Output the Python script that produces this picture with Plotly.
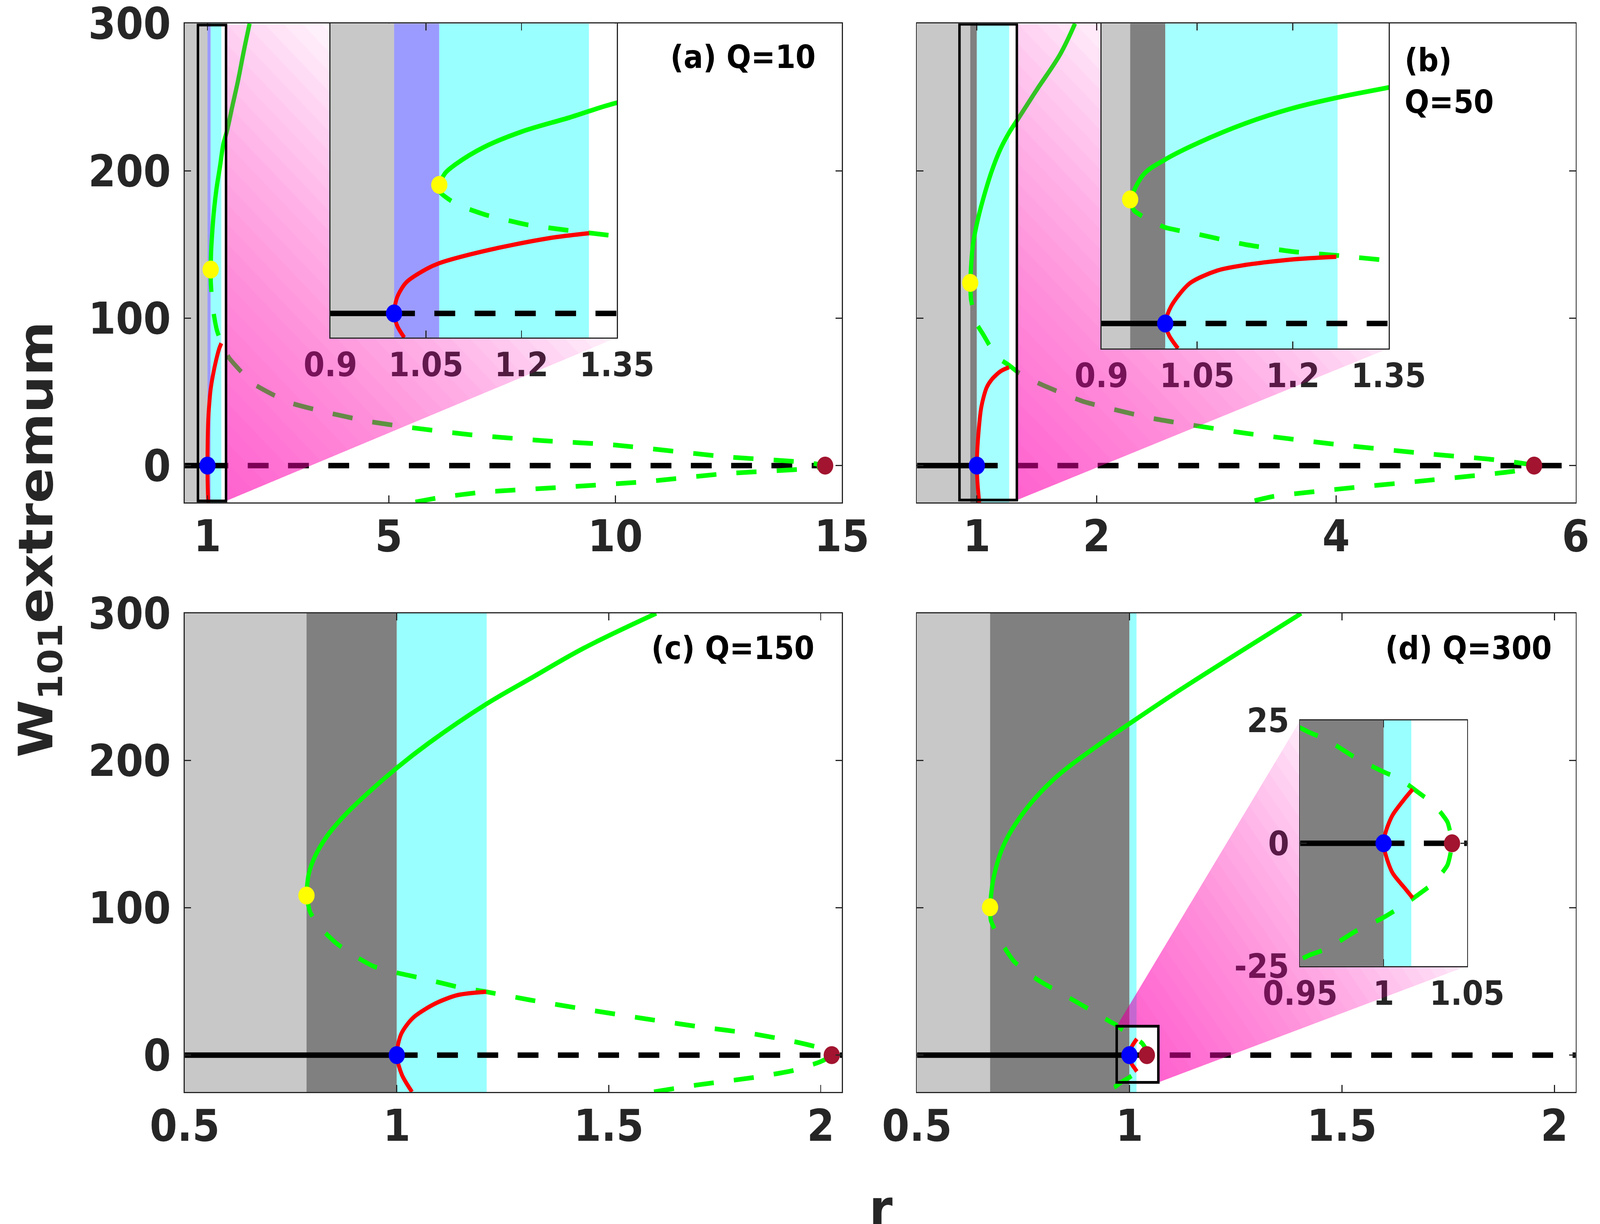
import math
import plotly.graph_objects as go

# the reference picture is 4935x3133 but its content is stretched sideways by ~1.09
# (round dots come out 50x46 px), so the figure is laid out narrower and stretched on display
W, H = 4935, 3133
STRETCH = 1.09
FIG_W = round(W / STRETCH)
FONT = "DejaVu Sans"
INK = "#262626"

# ---------------- values ----------------
# (a) Q=10
a_band_edges = [0.5, 1.0, 1.071, 1.306]
a_band_colors = ["#c8c8c8", "#9b9bff", "#99ffff"]
a_up_x = [1.071, 1.08, 1.096, 1.141, 1.2, 1.277, 1.35, 1.43, 1.55, 1.673, 1.8, 1.93]
a_up_y = [133, 145, 154, 172, 188, 203, 218, 227, 244, 261, 281, 300]
a_dn_x = [1.071, 1.073, 1.098, 1.144, 1.207, 1.273, 1.35, 1.48, 1.995, 2.79, 3.65, 4.55, 5.44,
          6.78, 8.38, 9.98, 12.44, 14.16, 14.63, 14.16, 12.44, 10.62, 8.83, 7.04, 6.14, 5.57]
a_dn_y = [133, 125, 113, 102, 92, 86, 80, 73, 56, 43, 36, 30, 26,
          21, 17, 14, 6, 2.3, 0, -2.3, -5.4, -11, -14.7, -18.1, -21.6, -24.8]
a_red_x = [1.016, 1.005, 1.0, 1.005, 1.019, 1.051, 1.071, 1.119, 1.187, 1.255, 1.306]
a_red_y = [-25, -13, 0, 17, 32, 46, 52, 61, 71, 79, 83]
a_points_x = [1.071, 1.0, 14.63]   # fold, Hopf, end
a_points_y = [133, 0, 0]

# (b) Q=50
b_band_edges = [0.5, 0.945, 1.0, 1.27]
b_band_colors = ["#c8c8c8", "#808080", "#a6ffff"]
b_up_x = [0.945, 0.966, 1.0, 1.053, 1.125, 1.198, 1.27, 1.35, 1.50, 1.695, 1.82]
b_up_y = [124, 149, 164, 181, 200, 215, 226, 236, 255, 279, 300]
b_dn_x = [0.945, 0.951, 0.973, 1.0, 1.053, 1.125, 1.198, 1.27, 1.35, 1.54, 1.89, 2.47, 3.24,
          4.01, 4.78, 5.32, 5.653, 5.50, 4.78, 4.01, 3.47, 3.26]
b_dn_y = [124, 113, 104, 96, 89, 79, 72, 68, 63, 55, 43.5, 32, 22,
          14.3, 7.9, 4, 0, -3.6, -9.9, -16, -21, -25]
b_red_x = [1.02, 1.006, 1.0, 1.009, 1.038, 1.082, 1.125, 1.198, 1.268]
b_red_y = [-25, -12, 0, 17, 40, 53, 58.5, 64, 66.7]
b_points_x = [0.945, 1.0, 5.653]
b_points_y = [124, 0, 0]

# (c) Q=150
c_band_edges = [0.5, 0.787, 1.0, 1.212]
c_band_colors = ["#c8c8c8", "#808080", "#99ffff"]
c_up_x = [0.787, 0.7924, 0.808, 0.8345, 0.867, 0.9065, 1.0, 1.076, 1.21, 1.315, 1.4406, 1.612]
c_up_y = [108.4, 123, 135.5, 148.3, 159.7, 171.2, 195, 212, 238.2, 255.7, 276.3, 300]
c_dn_x = [0.787, 0.795, 0.815, 0.854, 0.894, 0.946, 0.999, 1.065, 1.144, 1.211, 1.315, 1.447,
          1.579, 1.71, 1.842, 1.934, 2.0, 2.026, 2.0, 1.934, 1.842, 1.71, 1.605]
c_dn_y = [108.4, 97.6, 87.9, 76.8, 68.5, 60.2, 56, 51.8, 46.3, 43, 37.4, 31,
          25, 19.4, 14.4, 9.4, 4.7, 0, -4.4, -10.5, -15.2, -20.2, -25]
c_red_x = [1.036, 1.012, 1.0, 1.0105, 1.039, 1.092, 1.144, 1.211]
c_red_y = [-25, -13.3, 0, 14.4, 25.5, 35.2, 40.8, 43]
c_points_x = [0.787, 1.0, 2.026]
c_points_y = [108.4, 0, 0]

# (d) Q=300
d_band_edges = [0.5, 0.672, 1.0, 1.0166]
d_band_colors = ["#c8c8c8", "#808080", "#99ffff"]
d_up_x = [0.672, 0.680, 0.7042, 0.7529, 0.8259, 0.9232, 0.9996, 1.1178, 1.2638, 1.394, 1.404]
d_up_y = [100.4, 119.9, 142.7, 165.6, 188.4, 209.8, 225, 247.8, 274.5, 298.1, 300]
d_dn_x = [0.672, 0.674, 0.696, 0.728, 0.783, 0.859, 0.93, 0.9553, 0.9658, 0.9827, 0.9989,
          1.0101, 1.0206, 1.0302, 1.0383, 1.041, 1.0383, 1.0302, 1.0206, 1.0101, 0.9989,
          0.9827, 0.9666, 0.9553, 0.9425]
d_dn_y = [100.4, 91.5, 77.6, 63.8, 51.3, 38.8, 27, 22.6, 21.1, 17.5, 14.7,
          13, 10.4, 7.9, 4.3, 0, -4.4, -8, -10.5, -13, -15.3,
          -18, -21.4, -22.8, -25]
d_red_x = [1.0174, 1.0126, 1.0053, 1.0013, 1.0, 1.0013, 1.0053, 1.0126, 1.0174]
d_red_y = [-11.1, -9.1, -6, -2.4, 0, 2.35, 5.7, 9.05, 11]
d_points_x = [0.672, 1.0, 1.041]
d_points_y = [100.4, 0, 0]

# zoom boxes drawn in the main panels [x0, x1, y0, y1]
a_box = [0.79, 1.41, -24, 299]
b_box = [0.855, 1.334, -23.4, 299.5]
d_box = [0.97, 1.068, -18.5, 19.6]

# tick labels
a_xticks = [1, 5, 10, 15]
b_xticks = [1, 2, 4, 6]
cd_xticks = [0.5, 1, 1.5, 2]
main_yticks = [0, 100, 200, 300]
ab_inset_xticks = [0.9, 1.05, 1.2, 1.35]
d_inset_xticks = [0.95, 1, 1.05]
d_inset_yticks = [-25, 0, 25]

# ---------------- layout geometry (fractions of the page) ----------------
LEFT_X = [0.1155, 0.5262]
RIGHT_X = [0.5731, 0.9848]
TOP_Y = [0.5895, 0.9808]
BOT_Y = [0.1079, 0.4989]
Y_RANGE = [-25, 300]

panels = [
    dict(xd=LEFT_X, yd=TOP_Y, xr=[0.5, 15], xt=a_xticks, ylab=True,
         edges=a_band_edges, colors=a_band_colors, up=(a_up_x, a_up_y), dn=(a_dn_x, a_dn_y),
         red=(a_red_x, a_red_y), pts=(a_points_x, a_points_y), box=a_box),
    dict(xd=RIGHT_X, yd=TOP_Y, xr=[0.5, 6], xt=b_xticks, ylab=False,
         edges=b_band_edges, colors=b_band_colors, up=(b_up_x, b_up_y), dn=(b_dn_x, b_dn_y),
         red=(b_red_x, b_red_y), pts=(b_points_x, b_points_y), box=b_box),
    dict(xd=LEFT_X, yd=BOT_Y, xr=[0.5, 2.05], xt=cd_xticks, ylab=True,
         edges=c_band_edges, colors=c_band_colors, up=(c_up_x, c_up_y), dn=(c_dn_x, c_dn_y),
         red=(c_red_x, c_red_y), pts=(c_points_x, c_points_y), box=None),
    dict(xd=RIGHT_X, yd=BOT_Y, xr=[0.5, 2.05], xt=cd_xticks, ylab=False,
         edges=d_band_edges, colors=d_band_colors, up=(d_up_x, d_up_y), dn=(d_dn_x, d_dn_y),
         red=(d_red_x, d_red_y), pts=(d_points_x, d_points_y), box=d_box),
]

insets = [
    dict(panel=0, xd=[0.2065, 0.3856], yd=[0.7242, 0.9808], xr=[0.9, 1.35], yr=[-25, 300],
         xt=ab_inset_xticks, yt=[], corners=["TR", "iTL", "iBR", "BR"], angle=49, length=1153),
    dict(panel=1, xd=[0.6884, 0.8679], yd=[0.7153, 0.9808], xr=[0.9, 1.35], yr=[-25, 300],
         xt=ab_inset_xticks, yt=[], corners=["TR", "iTL", "iBR", "BR"], angle=49, length=1153),
    dict(panel=3, xd=[0.8126, 0.9169], yd=[0.2107, 0.4114], xr=[0.95, 1.05], yr=[-25, 25],
         xt=d_inset_xticks, yt=d_inset_yticks, corners=["TL", "iTL", "iBR", "BR", "TR"],
         angle=39.4, length=1000),
]


def ids(n):
    return ("x" if n == 1 else f"x{n}"), ("y" if n == 1 else f"y{n}")


def names(n):
    return ("xaxis" if n == 1 else f"xaxis{n}"), ("yaxis" if n == 1 else f"yaxis{n}")


def bold(vals):
    return ["<b>%g</b>" % v for v in vals]


def to_px(xd, yd, xr, yr, x, y):
    # position on the (stretched) reference page
    X = (xd[0] + (x - xr[0]) / (xr[1] - xr[0]) * (xd[1] - xd[0])) * W
    Y = (1 - (yd[0] + (y - yr[0]) / (yr[1] - yr[0]) * (yd[1] - yd[0]))) * H
    return X, Y


def clip(poly, s, u, t):
    # keep the part of poly where (p - s).u <= t
    out = []
    n = len(poly)
    for i in range(n):
        p, q = poly[i], poly[(i + 1) % n]
        dp = (p[0] - s[0]) * u[0] + (p[1] - s[1]) * u[1] - t
        dq = (q[0] - s[0]) * u[0] + (q[1] - s[1]) * u[1] - t
        if dp <= 0:
            out.append(p)
        if (dp <= 0) != (dq <= 0):
            f = dp / (dp - dq)
            out.append((p[0] + f * (q[0] - p[0]), p[1] + f * (q[1] - p[1])))
    return out


fig = go.Figure()
lay = {}
shapes = []

tickfont_main = dict(family=FONT, size=112, color=INK)
tickfont_inset = dict(family=FONT, size=86, color=INK)
frame = dict(showline=True, linecolor=INK, linewidth=3, mirror="ticks", ticks="inside",
             ticklen=18, tickwidth=3, tickcolor=INK, showgrid=False, zeroline=False,
             automargin=False, ticklabeloverflow="allow")


def add_bands(P, xa, ya, yr):
    e = P["edges"]
    for k, col in enumerate(P["colors"]):
        shapes.append(dict(type="rect", xref=xa, yref=ya, x0=e[k], x1=e[k + 1], y0=yr[0], y1=yr[1],
                           fillcolor=col, line=dict(width=0), layer="below"))


def add_curves(P, xa, ya, xr):
    common = dict(xaxis=xa, yaxis=ya, showlegend=False, hoverinfo="skip")
    hx = P["pts"][0][1]
    fig.add_trace(go.Scatter(x=[xr[0], hx], y=[0, 0], mode="lines",
                             line=dict(color="black", width=14), **common))
    fig.add_trace(go.Scatter(x=[hx, xr[1]], y=[0, 0], mode="lines",
                             line=dict(color="black", width=14, dash="59px,55px"), **common))
    fig.add_trace(go.Scatter(x=P["dn"][0], y=P["dn"][1], mode="lines",
                             line=dict(color="#00ff00", width=12, dash="57px,57px",
                                       shape="spline", smoothing=0.5), **common))
    fig.add_trace(go.Scatter(x=P["up"][0], y=P["up"][1], mode="lines",
                             line=dict(color="#00ff00", width=12, shape="spline", smoothing=1.0),
                             **common))
    fig.add_trace(go.Scatter(x=P["red"][0], y=P["red"][1], mode="lines",
                             line=dict(color="#ff0000", width=11, shape="spline", smoothing=0.8),
                             **common))
    fig.add_trace(go.Scatter(x=P["pts"][0], y=P["pts"][1], mode="markers",
                             marker=dict(size=46, color=["#ffff00", "#0000ff", "#a2142f"],
                                         line=dict(width=0)), **common))


# main panels: subplots 1..4
for i, P in enumerate(panels):
    n = i + 1
    xa, ya = ids(n)
    xn, yn = names(n)
    add_bands(P, xa, ya, Y_RANGE)
    add_curves(P, xa, ya, P["xr"])
    lay[xn] = dict(frame, domain=P["xd"], range=P["xr"], anchor=ya, tickvals=P["xt"],
                   ticktext=bold(P["xt"]), tickfont=tickfont_main, ticklabelstandoff=-12)
    lay[yn] = dict(frame, domain=P["yd"], range=Y_RANGE, anchor=xa, tickvals=main_yticks,
                   ticktext=bold(main_yticks), showticklabels=P["ylab"], tickfont=tickfont_main,
                   ticklabelstandoff=14)
    if P["box"]:
        b = P["box"]
        shapes.append(dict(type="rect", xref=xa, yref=ya, x0=b[0], x1=b[1], y0=b[2], y1=b[3],
                           line=dict(color="black", width=7), layer="above"))

# inset tick labels: subplots 5..7 (drawn under the magenta wedge)
for j, I in enumerate(insets):
    n = 5 + j
    xa, ya = ids(n)
    xn, yn = names(n)
    fig.add_trace(go.Scatter(x=[None], y=[None], xaxis=xa, yaxis=ya, showlegend=False))
    bare = dict(showline=False, ticks="", showgrid=False, zeroline=False, automargin=False,
                ticklabeloverflow="allow")
    lay[xn] = dict(bare, domain=I["xd"], range=I["xr"], anchor=ya, tickvals=I["xt"],
                   ticktext=bold(I["xt"]), tickfont=tickfont_inset, ticklabelstandoff=12)
    lay[yn] = dict(bare, domain=I["yd"], range=I["yr"], anchor=xa, tickvals=I["yt"],
                   ticktext=bold(I["yt"]), showticklabels=bool(I["yt"]), tickfont=tickfont_inset,
                   ticklabelstandoff=30)

# magenta zoom wedges: subplot 8 spanning the page
xa8, ya8 = ids(8)
xn8, yn8 = names(8)
lay[xn8] = dict(domain=[0, 1], range=[0, 1], visible=False, anchor=ya8, automargin=False)
lay[yn8] = dict(domain=[0, 1], range=[0, 1], visible=False, anchor=xa8, automargin=False)
N_LAYERS, A_MAX = 30, 0.55
a_step = 1 - (1 - A_MAX) ** (1.0 / N_LAYERS)
for I in insets:
    P = panels[I["panel"]]
    b = P["box"]
    c = {
        "TL": to_px(P["xd"], P["yd"], P["xr"], Y_RANGE, b[0], b[3]),
        "TR": to_px(P["xd"], P["yd"], P["xr"], Y_RANGE, b[1], b[3]),
        "BR": to_px(P["xd"], P["yd"], P["xr"], Y_RANGE, b[1], b[2]),
        "iTL": (I["xd"][0] * W, (1 - I["yd"][1]) * H),
        "iBR": (I["xd"][1] * W, (1 - I["yd"][0]) * H),
    }
    poly = [c[k] for k in I["corners"]]
    start = c["BR"]
    u = (math.cos(math.radians(I["angle"])), -math.sin(math.radians(I["angle"])))
    for k in range(1, N_LAYERS + 1):
        pts = clip(poly, start, u, I["length"] * k / N_LAYERS)
        if len(pts) < 3:
            continue
        pts = pts + [pts[0]]
        fig.add_trace(go.Scatter(x=[p[0] / W for p in pts], y=[1 - p[1] / H for p in pts],
                                 mode="lines", fill="toself", line=dict(width=0),
                                 fillcolor=f"rgba(255,0,200,{a_step:.4f})",
                                 xaxis=xa8, yaxis=ya8, showlegend=False, hoverinfo="skip"))

# inset contents: subplots 9..11 (on top of everything)
for j, I in enumerate(insets):
    n = 9 + j
    xa, ya = ids(n)
    xn, yn = names(n)
    P = panels[I["panel"]]
    shapes.append(dict(type="rect", xref=xa, yref=ya, x0=I["xr"][0], x1=I["xr"][1],
                       y0=I["yr"][0], y1=I["yr"][1], fillcolor="white", line=dict(width=0),
                       layer="below"))
    add_bands(P, xa, ya, I["yr"])
    add_curves(P, xa, ya, I["xr"])
    lay[xn] = dict(frame, domain=I["xd"], range=I["xr"], anchor=ya, tickvals=I["xt"],
                   showticklabels=False)
    lay[yn] = dict(frame, domain=I["yd"], range=I["yr"], anchor=xa, tickvals=I["yt"],
                   showticklabels=False)

label_font = dict(family=FONT, size=82, color="black")
title_font = dict(family=FONT, size=134, color=INK)
annotations = [
    dict(text="<b>(a) Q=10</b>", x=0.5102, y=0.9535, xanchor="right", yanchor="middle",
         font=label_font),
    dict(text="<b>(b)</b><br><b>Q=50</b>", x=0.8774, y=0.9339, xanchor="left", yanchor="middle",
         align="left", font=label_font),
    dict(text="<b>(c) Q=150</b>", x=0.5094, y=0.4705, xanchor="right", yanchor="middle",
         font=label_font),
    dict(text="<b>(d) Q=300</b>", x=0.9704, y=0.4705, xanchor="right", yanchor="middle",
         font=label_font),
    dict(text="<b>W<sub>101</sub>extremum</b>", x=0.0245, y=0.5595, xanchor="center",
         yanchor="middle", textangle=-90, font=title_font),
    dict(text="<b>r</b>", x=0.5506, y=0.0125, xanchor="center", yanchor="middle",
         font=title_font),
]
for a in annotations:
    a.update(xref="paper", yref="paper", showarrow=False)

# transparent plot areas so that the full-page wedge layer does not hide the panels
fig.update_layout(template="none", width=FIG_W, height=H, margin=dict(l=0, r=0, t=0, b=0),
                  paper_bgcolor="white", plot_bgcolor="rgba(0,0,0,0)", showlegend=False,
                  shapes=shapes, annotations=annotations, **lay)

# stretch the drawn figure so that it fills the browser window like the reference page
fit_page = """
(function () {
  var gd = document.getElementById('{plot_id}');
  document.documentElement.style.margin = '0';
  document.body.style.margin = '0';
  document.body.style.overflow = 'hidden';
  var sx = window.innerWidth / %d, sy = window.innerHeight / %d;
  gd.style.transformOrigin = '0 0';
  gd.style.transform = 'scale(' + sx + ',' + sy + ')';
})();
""" % (FIG_W, H)
fig.write_html("out.html", post_script=fit_page, config={"displayModeBar": False})
